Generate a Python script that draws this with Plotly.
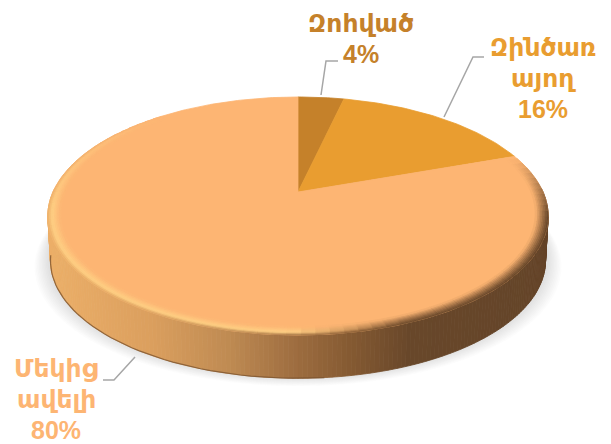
import math
import plotly.graph_objects as go

labels = ["Զոհված", "Զինծառայող", "Մեկից ավելի"]
label_lines = [["Զոհված", "4%"], ["Զինծառ", "այող", "16%"], ["Մեկից", "ավելի", "80%"]]
values = [3.6, 16.0, 80.4]
colors = ["#C5812A", "#E99D30", "#FDB573"]
text_colors = ["#C5812A", "#E99D30", "#FDB573"]
label_first_y = [23, 47, 368]
label_x = [361, 543, 56]
leaders = [[(321, 95), (326, 61), (338, 61)],
           [(444, 117), (473, 57), (484, 57)],
           [(135, 357), (114, 380), (103, 380)]]

W, H = 611, 444
CX, CY, A, B, K = 298, 192, 245, 114.2, 0.2016
DEPTH = 45
LINE_GAP = 31


def proj(theta, r=1.0, dy=0.0):
    u, v = r * math.sin(theta), r * math.cos(theta)
    d = 1 + K * v
    return CX + A * u / d, CY - B * v / d + dy


def mix(c1, c2, t):
    t = max(0.0, min(1.0, t))
    return tuple(a + (b - a) * t for a, b in zip(c1, c2))


def rgb(c):
    return "rgb(%d,%d,%d)" % tuple(round(x) for x in c)


def poly(pts, color, opacity=None, line=True):
    xs = [p[0] for p in pts] + [pts[0][0]]
    ys = [p[1] for p in pts] + [pts[0][1]]
    return go.Scatter(x=xs, y=ys, mode="lines", fill="toself", fillcolor=color,
                      line=dict(color=color, width=0.8 if line else 0),
                      opacity=opacity, hoverinfo="skip", showlegend=False)


WALL_STOPS = [(48, (236, 175, 104)), (150, (219, 159, 94)), (230, (190, 138, 82)),
              (290, (160, 111, 65)), (350, (133, 90, 50)), (410, (104, 71, 42)), (548, (100, 68, 40))]


def wall_color(x):
    for (x0, c0), (x1, c1) in zip(WALL_STOPS, WALL_STOPS[1:]):
        if x <= x1:
            return mix(c0, c1, (x - x0) / (x1 - x0))
    return WALL_STOPS[-1][1]


fig = go.Figure()

# soft shadow
n = 90
for i in range(10):
    grow = 13 - i * 1.4
    pts = []
    for j in range(n):
        t = 2 * math.pi * j / n
        x, y = proj(t, 1.0, DEPTH - 2)
        pts.append((CX + (x - CX) * (1 + grow / 245), y + grow * 0.62))
    fig.add_trace(poly(pts, "rgb(150,150,150)", opacity=0.03, line=False))

# side wall
steps = 200
lo, hi = math.radians(88), math.radians(272)
for i in range(steps):
    t0 = lo + (hi - lo) * i / steps
    t1 = lo + (hi - lo) * (i + 1) / steps
    p0, p1 = proj(t0), proj(t1)
    q1, q0 = proj(t1, 0.99, DEPTH), proj(t0, 0.99, DEPTH)
    fig.add_trace(poly([p0, p1, q1, q0], rgb(wall_color((p0[0] + p1[0]) / 2))))

# thin dark lower edge of the wall
edge = [proj(math.radians(a), 0.99, DEPTH) for a in range(175, 262, 2)]
fig.add_trace(go.Scatter(x=[p[0] for p in edge], y=[p[1] for p in edge], mode="lines",
                         line=dict(color="rgb(125,85,48)", width=1.2), opacity=0.8,
                         hoverinfo="skip", showlegend=False))

# slices
start = 0.0
total = sum(values)
for val, col in zip(values, colors):
    end = start + val / total * 2 * math.pi
    m = max(4, int(val * 4))
    pts = [proj(0, 0)] + [proj(start + (end - start) * j / m) for j in range(m + 1)]
    fig.add_trace(poly(pts, col))
    start = end

# rim bevel over the large slice
FACE = (253, 181, 115)
HIGH = (255, 214, 136)
rings = 8
RIM = 0.05
ang_steps = 90
lo2, hi2 = math.radians(72), math.radians(320)
for i in range(ang_steps):
    t0 = lo2 + (hi2 - lo2) * i / ang_steps
    t1 = lo2 + (hi2 - lo2) * (i + 1) / ang_steps
    tm = (t0 + t1) / 2
    deg = math.degrees(tm)
    xm = proj(tm)[0]
    fade = min(1.0, (deg - 72) / 30) * min(1.0, (320 - deg) / 60)
    dark = max(0.0, min(1.0, (xm - 290) / 110))
    light = 0.8 * max(0.0, 1 - dark)
    outer = mix(FACE, wall_color(xm), fade)
    peak = mix(FACE, HIGH, light * fade)
    for k in range(rings):
        s0, s1 = k / rings, (k + 1) / rings
        sm = (s0 + s1) / 2
        lit = mix(outer, peak, sm / 0.35) if sm < 0.35 else mix(peak, FACE, (sm - 0.35) / 0.65)
        shade = mix(outer, FACE, sm ** 1.2)
        c = mix(lit, shade, dark)
        r0, r1 = 1 - RIM * s0, 1 - RIM * s1
        fig.add_trace(poly([proj(t0, r0), proj(t1, r0), proj(t1, r1), proj(t0, r1)], rgb(c)))

# leader lines
for pts in leaders:
    fig.add_trace(go.Scatter(x=[p[0] for p in pts], y=[p[1] for p in pts], mode="lines",
                             line=dict(color="#A6A6A6", width=1.5), hoverinfo="skip", showlegend=False))

# labels
for lines, lx, ly, col in zip(label_lines, label_x, label_first_y, text_colors):
    for idx, line in enumerate(lines):
        fig.add_annotation(x=lx, y=ly + idx * LINE_GAP, text=line, showarrow=False, xref="x", yref="y",
                           xanchor="center", yanchor="middle", align="center",
                           font=dict(family="Liberation Sans, DejaVu Sans, sans-serif", size=25, color=col, weight="bold"))

fig.update_layout(width=W, height=H, margin=dict(l=0, r=0, t=0, b=0),
                  paper_bgcolor="white", plot_bgcolor="white", showlegend=False,
                  xaxis=dict(range=[0, W], visible=False, fixedrange=True),
                  yaxis=dict(range=[H, 0], visible=False, fixedrange=True))
fig.write_html("out.html", config={"displayModeBar": False},
               post_script="document.body.style.margin='0';document.documentElement.style.overflow='hidden';")
